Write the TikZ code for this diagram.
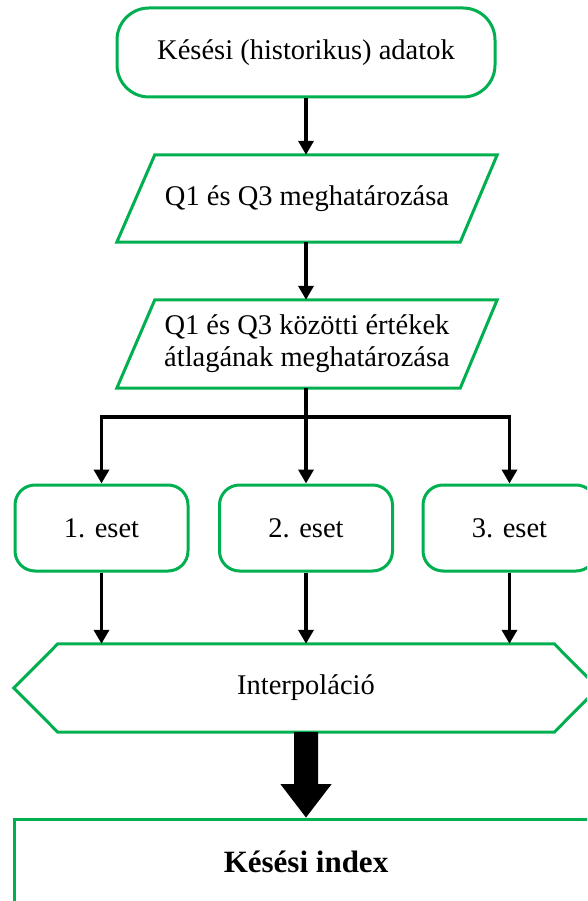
\documentclass[tikz,border=0pt]{standalone}
\usepackage{fontspec}
\setmainfont{Liberation Serif}
\usetikzlibrary{arrows.meta,calc}
\definecolor{fgreen}{HTML}{00B050}
\begin{document}
\begin{tikzpicture}[x=1pt,y=-1pt,
  txt/.style={font=\fontsize{28.5}{32}\selectfont, align=center, inner sep=0pt},
  gline/.style={draw=fgreen, line width=3pt},
  term/.style={txt, gline, rounded corners=32pt, minimum width=378pt, minimum height=89pt},
  casebox/.style={txt, gline, rounded corners=20pt, minimum width=173pt, minimum height=86pt},
  ghost/.style={txt, minimum width=380pt, minimum height=87pt},
  arr/.style={draw=black, line width=3.5pt, -{Triangle[width=15pt,length=14pt]}},
  conn/.style={draw=black, line width=3.5pt}
]
\clip (0,0) rectangle (587,901);
\useasboundingbox (0,0) rectangle (587,901);
\fill[white] (0,0) rectangle (587,901);

% top terminator
\node[term] (top) at (306,52.5) {Késési (historikus) adatok};

% parallelogram 1
\node[ghost] (p1) at (307,198.5) {Q1 és Q3 meghatározása};
\draw[gline, line join=miter] (p1.south west) -- ($(p1.north west)+(38,0)$) -- (p1.north east) -- ($(p1.south east)+(-37,0)$) -- cycle;

% parallelogram 2
\node[ghost, minimum height=88pt] (p2) at (307,344) {Q1 és Q3 közötti értékek\\átlagának meghatározása};
\draw[gline, line join=miter] (p2.south west) -- ($(p2.north west)+(38,0)$) -- (p2.north east) -- ($(p2.south east)+(-37,0)$) -- cycle;

% cases
\node[casebox] (b1) at (101.5,528) {1. eset};
\node[casebox] (b2) at (306,528) {2. eset};
\node[casebox] (b3) at (509.5,528) {3. eset};

% hexagon
\node[txt, minimum width=584pt, minimum height=88pt] (hex) at (306,688) {Interpoláció};
\draw[gline, line join=miter] (hex.west) -- ($(hex.north west)+(44,0)$) -- ($(hex.north east)+(-44,0)$) -- (hex.east) -- ($(hex.south east)+(-44,0)$) -- ($(hex.south west)+(44,0)$) -- cycle;

% output box
\node[gline, minimum width=584pt, minimum height=86pt, inner sep=0pt, font=\fontsize{31}{36}\selectfont\bfseries] (out) at (306,862) {Késési index};

% connectors
\draw[arr] (top.south) -- (top.south |- p1.north);
\draw[arr] (p1.south -| top.south) -- (top.south |- p2.north);
\coordinate (j) at (306,417);
\draw[conn] (p2.south -| top.south) -- (j);
\draw[arr] (j) -- (b2.north);
\draw[arr] (j) -| (b1.north);
\draw[arr] (j) -| (b3.north);
\draw[arr] (b1.south) -- (b1.south |- hex.north);
\draw[arr] (b2.south) -- (b2.south |- hex.north);
\draw[arr] (b3.south) -- (b3.south |- hex.north);

% thick block arrow
\fill[black] ($(hex.south)+(-12,0)$) -- ($(hex.south)+(12,0)$) -- ($(hex.south)+(12,52)$) -- ($(hex.south)+(25.5,52)$) -- (out.north) -- ($(hex.south)+(-25.5,52)$) -- ($(hex.south)+(-12,52)$) -- cycle;
\end{tikzpicture}
\end{document}
